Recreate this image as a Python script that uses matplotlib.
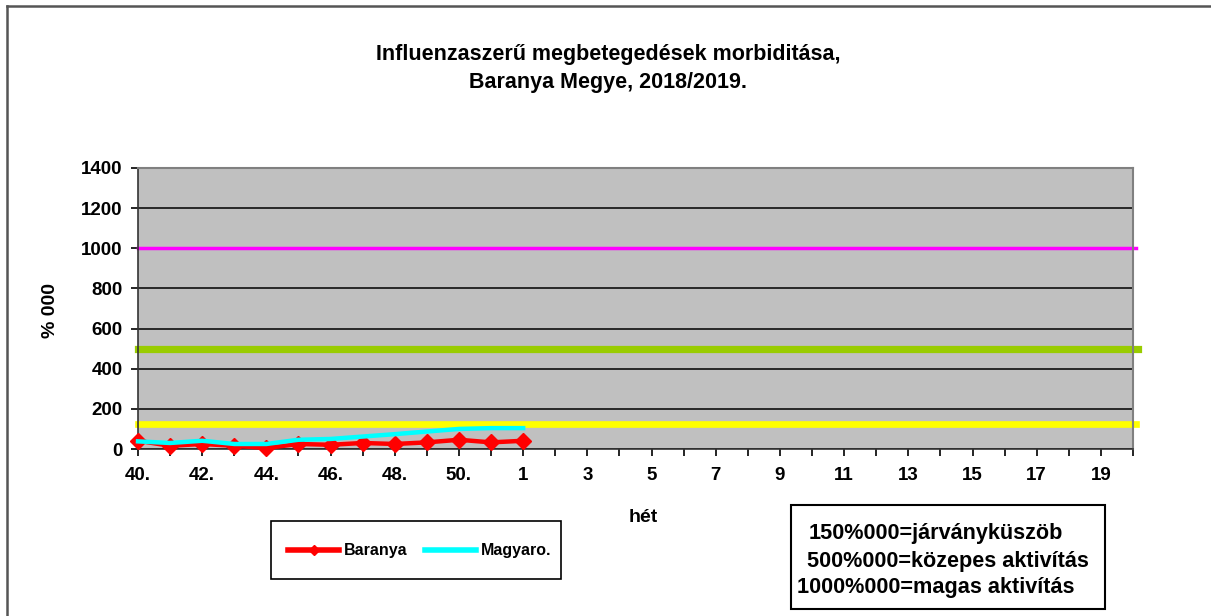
import matplotlib.pyplot as plt
from matplotlib.lines import Line2D
from matplotlib.patches import Rectangle

plt.rcParams['font.family'] = ['Liberation Sans', 'DejaVu Sans']
plt.rcParams['font.weight'] = 'bold'

# weeks of the 2018/2019 season
weeks = [f"{w}." for w in range(40, 52)] + [str(w) for w in range(1, 21)]

# values (%000)
baranya = [41, 16, 25, 16, 5, 25, 21, 30, 25, 33, 46, 33, 41]
magyaro = [38, 30, 41, 25, 25, 46, 50, 62, 74, 87, 100, 104, 104]

# reference levels
kuszob = 125
kozepes = 500
magas = 1000

x_all = list(range(len(weeks)))

fig = plt.figure(figsize=(12.11, 6.16), dpi=100)
ax = fig.add_axes([138 / 1211, 1 - 449 / 616, (1133 - 138) / 1211, (449 - 168) / 616])
ax.set_facecolor('#C0C0C0')

ax.set_xlim(0, len(weeks) - 1)
ax.set_ylim(0, 1400)
ax.set_yticks(range(0, 1401, 200))
ax.grid(axis='y', color='black', linewidth=1.1, zorder=1)
ax.set_axisbelow(True)

ax.plot([0, len(weeks) - 1 + 0.1], [magas, magas], color='#FF00FF', lw=2.5, clip_on=False, zorder=2)
ax.plot([0, len(weeks) - 1 + 0.15], [kozepes, kozepes], color='#99CC00', lw=5.2, clip_on=False, zorder=2)
ax.plot([0, len(weeks) - 1 + 0.1], [kuszob, kuszob], color='#FFFF00', lw=4.8, clip_on=False, zorder=2)

ax.plot(x_all[:len(baranya)], baranya, color='#FF0000', lw=3.2, marker='D', ms=8.5,
        clip_on=False, zorder=3, label='Baranya')
ax.plot(x_all[:len(magyaro)], magyaro, color='#00FFFF', lw=3.2, clip_on=False, zorder=4, label='Magyaro.')

ax.set_xticks(x_all)
ax.set_xticklabels([w if i % 2 == 0 else '' for i, w in enumerate(weeks)])
ax.tick_params(axis='both', labelsize=13.5, length=5, width=1.2, direction='out', pad=6)
ax.tick_params(axis='x', pad=8)
for lab in ax.get_xticklabels() + ax.get_yticklabels():
    lab.set_fontweight('bold')

for s in ['left', 'bottom']:
    ax.spines[s].set_color('#333333')
    ax.spines[s].set_linewidth(1.2)
for s in ['top', 'right']:
    ax.spines[s].set_color('#808080')
    ax.spines[s].set_linewidth(1.5)

fig.text(50 / 1211, 1 - 311 / 616, '% 000', rotation=90, ha='center', va='center',
         fontsize=14, fontweight='bold')
fig.text(643 / 1211, 1 - 518 / 616, 'hét', ha='center', va='center', fontsize=14, fontweight='bold')

fig.text(608 / 1211, 1 - 60 / 616, 'Influenzaszerű megbetegedések morbiditása,',
         ha='center', va='baseline', fontsize=15.5, fontweight='bold')
fig.text(608 / 1211, 1 - 88 / 616, 'Baranya Megye, 2018/2019.',
         ha='center', va='baseline', fontsize=15.5, fontweight='bold')

# legend box drawn by hand, legend entries inside it
fig.patches.append(Rectangle((271 / 1211, 1 - 579 / 616), (561 - 271) / 1211, (579 - 521) / 616,
                             transform=fig.transFigure, fill=False, edgecolor='black', lw=1.2))
handles = [Line2D([], [], color='#FF0000', lw=4, marker='D', ms=5),
           Line2D([], [], color='#00FFFF', lw=4)]
fig.legend(handles, ['Baranya', 'Magyaro.'], ncol=2,
           bbox_to_anchor=(420 / 1211, 1 - 551 / 616), loc='center', frameon=False,
           prop={'size': 11.5, 'weight': 'bold'}, handlelength=3.2, handletextpad=0.3,
           columnspacing=1.1, borderaxespad=0, borderpad=0)

# text box with the activity levels
fig.patches.append(Rectangle((791 / 1211, 1 - 609 / 616), (1105 - 791) / 1211, (609 - 505) / 616,
                             transform=fig.transFigure, fill=False, edgecolor='black', lw=1.5))
notes = [(809, 533, '150%000=járványküszöb'),
         (807, 561, '500%000=közepes aktivítás'),
         (797, 587, '1000%000=magas aktivítás')]
for nx, ny, t in notes:
    fig.text(nx / 1211, 1 - ny / 616, t, ha='left', va='center', fontsize=15.6, fontweight='bold')

# outer chart border (left and top edges visible)
fig.add_artist(Line2D([7 / 1211, 7 / 1211], [0, 1 - 6 / 616], transform=fig.transFigure,
                      color='#555555', lw=1.8))
fig.add_artist(Line2D([7 / 1211, 1], [1 - 6 / 616, 1 - 6 / 616], transform=fig.transFigure,
                      color='#555555', lw=1.8))

fig.savefig('out.png', dpi=100)
